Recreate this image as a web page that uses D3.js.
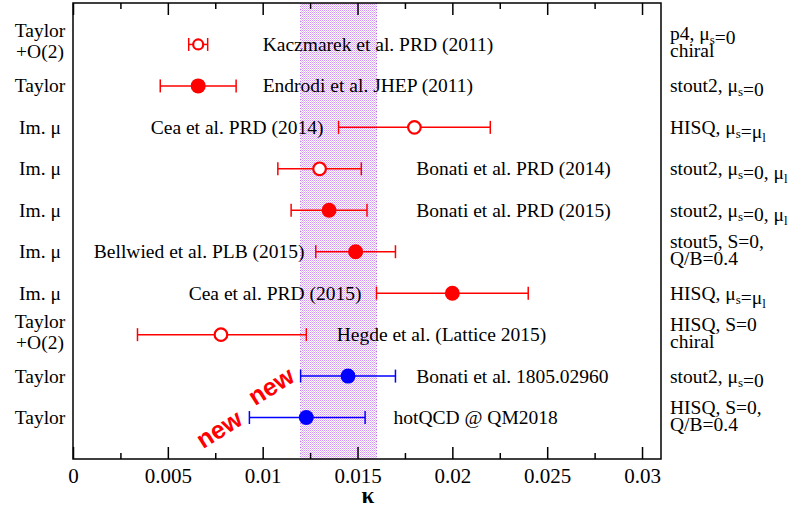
<!DOCTYPE html>
<html>
<head>
<meta charset="utf-8">
<script src="https://cdn.jsdelivr.net/npm/d3@7"></script>
<style>
  body { margin: 0; background: #fff; }
  text { font-family: "Liberation Serif", "Times New Roman", serif; }
</style>
</head>
<body>
<svg id="chart" width="797" height="510"></svg>
<script>
// methods (left column), references (inside), actions (right column)
const methods = [["Taylor", "+O(2)"], ["Taylor"], ["Im. μ"], ["Im. μ"], ["Im. μ"],
                 ["Im. μ"], ["Im. μ"], ["Taylor", "+O(2)"], ["Taylor"], ["Taylor"]];
const refs = ["Kaczmarek et al. PRD (2011)", "Endrodi et al. JHEP (2011)", "Cea et al. PRD (2014)",
              "Bonati et al. PRD (2014)", "Bonati et al. PRD (2015)", "Bellwied et al. PLB (2015)",
              "Cea et al. PRD (2015)", "Hegde et al. (Lattice 2015)", "Bonati et al. 1805.02960",
              "hotQCD @ QM2018"];
const actions = [["p4, μ_s=0", "chiral"], ["stout2, μ_s=0"], ["HISQ, μ_s=μ_l"], ["stout2, μ_s=0, μ_l"],
                 ["stout2, μ_s=0, μ_l"], ["stout5, S=0,", "Q/B=0.4"], ["HISQ, μ_s=μ_l"],
                 ["HISQ, S=0", "chiral"], ["stout2, μ_s=0"], ["HISQ, S=0,", "Q/B=0.4"]];
const kappa  = [0.0066, 0.0066, 0.0180, 0.0130, 0.0135, 0.0149, 0.0200, 0.0078, 0.0145, 0.0123];
const errLo  = [0.0005, 0.0020, 0.0040, 0.0022, 0.0020, 0.0021, 0.0040, 0.0044, 0.0025, 0.0030];
const errHi  = [0.0005, 0.0020, 0.0040, 0.0022, 0.0020, 0.0021, 0.0040, 0.0045, 0.0025, 0.0031];
const filled = [false, true, false, false, true, true, true, false, true, true];
const isNew  = [false, false, false, false, false, false, false, false, true, true];
const band = [0.012, 0.016];
const xTicks = [0, 0.005, 0.01, 0.015, 0.02, 0.025, 0.03];
const xTickLabels = ["0", "0.005", "0.01", "0.015", "0.02", "0.025", "0.03"];
// where each reference label starts, in kappa units
const refLabelAt = [0.0100, 0.0100, 0.0041, 0.0181, 0.0181, 0.0011, 0.0061, 0.0139, 0.0181, 0.0169];

const svg = d3.select('#chart');
const L = 73, R = 661, T = 3, B = 459;
const x = d3.scaleLinear().domain([0, 0.031]).range([L, R]);
const y = d3.scaleLinear().domain([0, 11]).range([T, B]);
const rows = d3.range(10);

// dotted band (checker of small violet dots)
const defs = svg.append('defs');
const pat = defs.append('pattern').attr('id', 'dots')
    .attr('patternUnits', 'userSpaceOnUse').attr('width', 2).attr('height', 2);
pat.append('rect').attr('width', 2).attr('height', 2).attr('fill', '#ffffff');
pat.append('rect').attr('width', 1).attr('height', 1).attr('fill', '#d28ef0');
pat.append('rect').attr('x', 1).attr('y', 1).attr('width', 1).attr('height', 1).attr('fill', '#e8c2f6');

svg.append('rect')
    .attr('x', x(band[0])).attr('y', T)
    .attr('width', x(band[1]) - x(band[0])).attr('height', B - T)
    .attr('fill', 'url(#dots)');
svg.selectAll('.bandEdge').data(band).enter().append('line')
    .attr('x1', d => x(d)).attr('x2', d => x(d)).attr('y1', T).attr('y2', B)
    .style('stroke', '#c070e8').style('stroke-width', 1).style('stroke-dasharray', '1,2');

// axes, ticks inward top and bottom
const minor = d3.range(0.0025, 0.031, 0.005);
const axisStyle = g => {
    g.select('.domain').remove();
    g.selectAll('.tick line').style('stroke', '#000').style('stroke-width', 1.5);
};
svg.append('g').attr('transform', `translate(0,${B})`)
    .call(d3.axisBottom(x).tickValues(xTicks).tickSize(-12).tickPadding(9)
        .tickFormat((d, i) => xTickLabels[i]))
    .call(axisStyle)
    .selectAll('text').style('font-family', '"Liberation Serif", serif').style('font-size', '21px').style('fill', '#000');
svg.append('g').attr('transform', `translate(0,${B})`)
    .call(d3.axisBottom(x).tickValues(minor).tickSize(-6).tickFormat(''))
    .call(axisStyle);
svg.append('g').attr('transform', `translate(0,${T})`)
    .call(d3.axisTop(x).tickValues(xTicks).tickSize(-12).tickFormat(''))
    .call(axisStyle);
svg.append('g').attr('transform', `translate(0,${T})`)
    .call(d3.axisTop(x).tickValues(minor).tickSize(-6).tickFormat(''))
    .call(axisStyle);

svg.append('rect').attr('x', L).attr('y', T).attr('width', R - L).attr('height', B - T)
    .attr('fill', 'none').style('stroke', '#000').style('stroke-width', 1.5);

svg.append('text').attr('x', 368).attr('y', 503).attr('text-anchor', 'middle')
    .style('font-size', '23px').style('font-weight', 'bold').text('κ');

// error bars and markers
const col = i => isNew[i] ? '#0000ff' : '#ff0000';
const pts = svg.selectAll('.pt').data(rows).enter().append('g');
pts.append('line')
    .attr('x1', i => x(kappa[i] - errLo[i])).attr('x2', i => x(kappa[i] + errHi[i]))
    .attr('y1', i => y(i + 1)).attr('y2', i => y(i + 1))
    .style('stroke', col).style('stroke-width', 1.5);
[i => kappa[i] - errLo[i], i => kappa[i] + errHi[i]].forEach(f => {
    pts.append('line')
        .attr('x1', i => x(f(i))).attr('x2', i => x(f(i)))
        .attr('y1', i => y(i + 1) - 6.5).attr('y2', i => y(i + 1) + 6.5)
        .style('stroke', col).style('stroke-width', 1.5);
});
pts.append('circle')
    .attr('cx', i => x(kappa[i])).attr('cy', i => y(i + 1))
    .attr('r', i => filled[i] ? 7.5 : (i === 0 ? 5 : 6.3))
    .style('fill', i => filled[i] ? col(i) : '#fff')
    .style('stroke', col).style('stroke-width', i => filled[i] ? 0 : 2.2);

// labels
const fs = 19.5;
svg.selectAll('.ref').data(rows).enter().append('text')
    .attr('x', i => x(refLabelAt[i])).attr('y', i => y(i + 1)).attr('dy', '0.33em')
    .style('font-size', fs + 'px').text(i => refs[i]);

rows.forEach(i => {
    const lines = methods[i];
    lines.forEach((s, k) => {
        svg.append('text')
            .attr('x', 40).attr('text-anchor', 'middle')
            .attr('y', y(i + 1) + (lines.length === 1 ? 6.5 : (k === 0 ? -7 : 14)))
            .style('font-size', fs + 'px').text(s);
    });
});

function subText(sel, s) {
    s.split(/(_\w)/).filter(p => p).forEach(p => {
        if (p[0] === '_') {
            sel.append('tspan').attr('dy', 4).style('font-size', '13px').text(p.slice(1));
            sel.append('tspan').attr('dy', -4).text('');
        } else {
            sel.append('tspan').text(p);
        }
    });
}
rows.forEach(i => {
    const lines = actions[i];
    lines.forEach((s, k) => {
        const t = svg.append('text')
            .attr('x', 670)
            .attr('y', y(i + 1) + (lines.length === 1 ? 6.5 : (k === 0 ? -4 : 13)))
            .style('font-size', fs + 'px');
        subText(t, s);
    });
});

// "new" tags
[[219, 429], [271, 386]].forEach(([cx, cy]) => {
    svg.append('text')
        .attr('transform', `translate(${cx},${cy}) rotate(-32)`)
        .attr('text-anchor', 'middle').attr('dy', '0.35em')
        .style('font-family', '"Liberation Sans", Arial, sans-serif')
        .style('font-weight', 'bold')
        .style('font-size', '25px').style('fill', '#ff0000')
        .text('new');
});
</script>
</body>
</html>
